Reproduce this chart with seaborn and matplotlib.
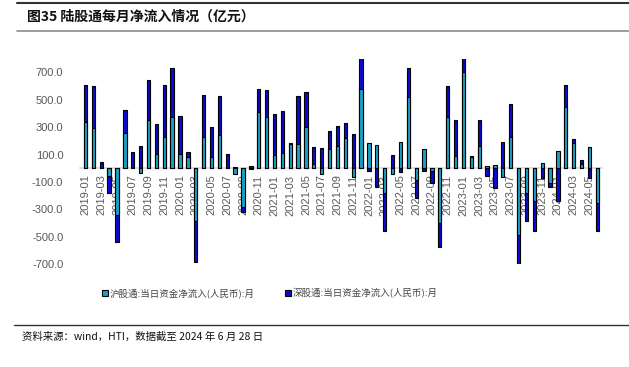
import numpy as np
import pandas as pd
import matplotlib
matplotlib.use("Agg")
import matplotlib.pyplot as plt
import seaborn as sns

# -----------------------------
# DATA (亿元)
# -----------------------------
months = [f"{y}-{m:02d}" for y in range(2019, 2025) for m in range(1, 13)][:66]

sh_flow = [335, 291, 5, -55, -340, 261, 5, -35, 354, 103, 225, 376,
           103, 79, -383, 232, 79, 242, 5, -38, -280, -8, 408, 376,
           99, 111, 176, 181, 298, 35, -45, 140, 164, 218, -67, 578,
           184, 169, -177, -38, 189, 522, -85, 140, -20, -400, 371, 91,
           705, 82, 164, 15, 25, -62, 226, -487, -180, -238, 41, -110,
           128, 449, 184, 32, 155, -250]

sz_flow = [272, 312, 38, -126, -197, 164, 115, 160, 292, 217, 382, 353,
           280, 37, -300, 303, 221, 285, 98, 13, -37, 18, 170, 195,
           301, 304, 8, 346, 261, 117, 150, 129, 142, 112, 247, 280,
           -23, -133, -279, 96, -26, 210, -130, -23, -90, -178, 232, 261,
           150, 9, 190, -55, -147, 194, 244, -231, -205, -222, -73, -30,
           -240, 161, 32, 27, -70, -205]

yticks = [-700, -500, -300, -100, 100, 300, 500, 700]

label_sh = "沪股通:当日资金净流入(人民币):月"
label_sz = "深股通:当日资金净流入(人民币):月"

# -----------------------------
# SETUP
# -----------------------------
sns.set_style("white")
plt.rcParams['font.family'] = ['Liberation Sans', 'Noto Sans CJK SC', 'DejaVu Sans']
cjk = ['Noto Sans CJK SC', 'DejaVu Sans']

c_sh = "#1aa0c4"
c_sz = "#0a0ad2"
grey = "#595959"

df = pd.DataFrame({"month": months, "sh": sh_flow, "sz": sz_flow})
# excel style stacking: same sign stacks on top, opposite sign goes the other way
same = np.sign(df["sh"]) == np.sign(df["sz"])
df["outer"] = np.where(same, df["sh"] + df["sz"], df["sz"])

fig = plt.figure(figsize=(6.29, 3.67), dpi=100)
ax = fig.add_axes([80 / 629, 1 - 264.2 / 367, 522 / 629, (264.2 - 58.7) / 367])

sns.barplot(data=df, x="month", y="outer", color=c_sz, saturation=1, width=0.42,
            edgecolor="black", linewidth=0.8, errorbar=None, ax=ax,
            label=label_sz)
sns.barplot(data=df, x="month", y="sh", color=c_sh, saturation=1, width=0.42,
            edgecolor="black", linewidth=0.8, errorbar=None, ax=ax,
            label=label_sh)

# bars drawn over the tick labels, like the original
for i, cont in enumerate(ax.containers):
    for p in cont:
        p.set_zorder(5 + i)

# grab handles then drop the seaborn axes legend
handles, labels = ax.get_legend_handles_labels()
if ax.get_legend() is not None:
    ax.get_legend().remove()

ax.set_ylim(-700, 800)
ax.set_xlim(-0.7, len(months) - 0.4)
ax.set_yticks(yticks)
ax.set_yticklabels([f"{v:.1f}" for v in yticks])
ax.tick_params(axis="y", length=0, pad=12, labelsize=8, labelcolor=grey)

ax.set_xticks(range(0, len(months), 2))
ax.set_xticklabels(months[::2])
ax.tick_params(axis="x", length=2.5, color="#d0d0d0", pad=2, labelrotation=90,
               labelsize=8, labelcolor=grey)
ax.set_xlabel("")
ax.set_ylabel("")
ax.set_axisbelow(True)

for s in ["top", "right", "left"]:
    ax.spines[s].set_visible(False)
ax.spines["bottom"].set_position(("data", 0))
ax.spines["bottom"].set_color("#d9d9d9")
ax.spines["bottom"].set_linewidth(1.2)
ax.spines["bottom"].set_zorder(2)

# legend
order = [labels.index(label_sh), labels.index(label_sz)]
leg = fig.legend([handles[i] for i in order], [labels[i] for i in order],
                 loc="center", bbox_to_anchor=(270 / 629, 1 - 293 / 367),
                 ncol=2, frameon=False, prop={"family": cjk, "size": 6.8},
                 handlelength=0.6, handleheight=0.6, handletextpad=0.2,
                 columnspacing=3.2)
for t in leg.get_texts():
    t.set_color("#444444")

# title and frame lines
fig.text(27 / 629, 1 - 17 / 367, "图35 陆股通每月净流入情况（亿元）", family=cjk,
         fontsize=10, fontweight="bold", va="center", ha="left", color="#111111")
fig.add_artist(plt.Line2D([17 / 629, 1], [1 - 3 / 367] * 2, color="#333333", lw=1.5))
fig.add_artist(plt.Line2D([17 / 629, 1], [1 - 31 / 367] * 2, color="#8c8c8c", lw=1.2))
fig.add_artist(plt.Line2D([14 / 629, 1], [1 - 325 / 367] * 2, color="#333333", lw=1.0))
fig.text(22 / 629, 1 - 337 / 367, "资料来源：wind，HTI，数据截至 2024 年 6 月 28 日",
         family=cjk, fontsize=7.5, va="center", ha="left", color="#111111")

fig.savefig("out.png", dpi=100)
